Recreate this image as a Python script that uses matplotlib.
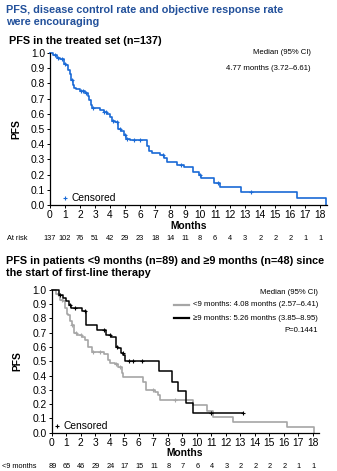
import matplotlib
matplotlib.use("Agg")
import matplotlib.pyplot as plt
import matplotlib.transforms as mtransforms
import numpy as np

plt.rcParams['font.family'] = ['Liberation Sans', 'DejaVu Sans']

# ---------------- data ----------------
months = list(range(0, 19))

# Top: all patients
all_t = [0, 0.2, 0.45, 0.65, 0.9, 1.05, 1.2, 1.3, 1.4, 1.5, 1.6, 1.75, 2.0, 2.3, 2.5, 2.6, 2.7, 2.8,
         3.3, 3.6, 3.8, 4.0, 4.1, 4.3, 4.55, 4.75, 4.9, 5.05, 5.3, 6.45, 6.6, 6.8, 7.35, 7.6, 7.8,
         8.45, 8.9, 9.5, 9.95, 10.05, 10.9, 11.3, 12.7, 16.45, 18.4]
all_s = [1.0, 0.99, 0.97, 0.96, 0.93, 0.92, 0.89, 0.86, 0.82, 0.79, 0.77, 0.76, 0.75, 0.74, 0.72, 0.69,
         0.66, 0.635, 0.625, 0.615, 0.60, 0.58, 0.555, 0.545, 0.50, 0.49, 0.46, 0.435, 0.425, 0.39,
         0.355, 0.345, 0.33, 0.31, 0.285, 0.263, 0.248, 0.219, 0.197, 0.175, 0.147, 0.12, 0.088,
         0.044, 0.0]
all_cens = [0.3, 0.55, 0.8, 1.0, 1.45, 2.05, 2.2, 2.4, 2.85, 3.6, 3.75, 4.2, 4.45, 4.65, 5.0, 5.15,
            5.6, 6.0, 7.5, 8.7, 10.0, 11.2, 13.4]
risk_all = [137, 102, 76, 51, 42, 29, 23, 18, 14, 11, 8, 6, 4, 3, 2, 2, 2, 1, 1]

# Bottom: <9 months (gray) and >=9 months (black)
lt_t = [0, 0.3, 0.55, 0.8, 0.92, 1.03, 1.15, 1.26, 1.38, 1.54, 1.72, 2.06, 2.3, 2.52, 2.75, 3.6, 3.9,
        4.0, 4.36, 4.59, 4.82, 4.93, 6.33, 6.5, 7.1, 7.34, 7.45, 9.77, 10.69, 11.1, 12.48, 16.2, 18.1]
lt_s = [1.0, 0.97, 0.93, 0.92, 0.875, 0.83, 0.82, 0.78, 0.75, 0.70, 0.68, 0.67, 0.65, 0.60, 0.565,
        0.547, 0.51, 0.49, 0.48, 0.457, 0.42, 0.39, 0.356, 0.30, 0.288, 0.266, 0.232, 0.194, 0.153,
        0.113, 0.074, 0.04, 0.0]
lt_cens = [0.4, 0.7, 1.4, 1.7, 2.0, 2.85, 3.3, 4.4, 4.7, 7.0, 8.5]

ge_t = [0, 0.5, 0.75, 1.0, 1.2, 1.35, 2.1, 2.35, 3.1, 3.75, 4.1, 4.4, 4.6, 4.75, 4.95, 5.05, 7.4,
        8.27, 8.73, 9.26, 9.72]
ge_s = [1.0, 0.96, 0.94, 0.92, 0.89, 0.875, 0.85, 0.75, 0.72, 0.68, 0.67, 0.60, 0.59, 0.56, 0.545,
        0.50, 0.428, 0.356, 0.289, 0.21, 0.138]
ge_end = 13.17
ge_cens = [0.6, 1.25, 1.6, 2.3, 3.6, 4.0, 4.5, 4.9, 5.3, 5.6, 6.2, 11.0, 13.17]
risk_lt = [89, 65, 46, 29, 24, 17, 15, 11, 8, 7, 6, 4, 3, 2, 2, 2, 2, 1, 1]

BLUE = '#1a6ad6'
TITLE_BLUE = '#23519b'
GRAY = '#a6a6a6'

W, H = 337, 471
fig = plt.figure(figsize=(W / 100, H / 100), dpi=100)
fig.patch.set_facecolor('white')


def px(x, y):
    return x / W, 1 - y / H


def surv_at(t, s, x):
    idx = np.searchsorted(t, x, side='right') - 1
    return s[max(idx, 0)]


def style_axes(ax, xmax):
    ax.set_xlim(0, xmax)
    ax.set_ylim(0, 1.0)
    ax.set_xticks(months)
    ax.set_yticks(np.arange(0, 1.01, 0.1))
    ax.set_yticklabels([f"{v:.1f}" for v in np.arange(0, 1.01, 0.1)])
    for sp in ['top', 'right']:
        ax.spines[sp].set_visible(False)
    for sp in ['left', 'bottom']:
        ax.spines[sp].set_linewidth(0.9)
    ax.tick_params(axis='both', direction='out', length=2.5, width=0.7, labelsize=7.4, pad=1)


# ---------------- titles ----------------
fig.text(*px(6, 16), "PFS, disease control rate and objective response rate\nwere encouraging",
         color=TITLE_BLUE, fontsize=7.8, fontweight='bold', va='center', ha='left',
         linespacing=1.25)
fig.text(*px(9, 41), "PFS in the treated set (n=137)", fontsize=7.8, fontweight='bold',
         va='center', ha='left')

# ---------------- top axes ----------------
ax1 = fig.add_axes([50 / W, 1 - 205 / H, 277 / W, 152 / H])
style_axes(ax1, 18.45)
ax1.step(all_t, all_s, where='post', color=BLUE, lw=1.2, clip_on=False)
ax1.plot(all_cens, [surv_at(all_t, all_s, c) for c in all_cens], '+', color=BLUE, ms=3.5, mew=0.8,
         clip_on=False)
ax1.set_ylabel("PFS", fontsize=7.4, fontweight='bold', labelpad=7)
ax1.set_xlabel("Months", fontsize=7.4, fontweight='bold', labelpad=0.5)
ax1.plot([1.0], [0.045], '+', color=BLUE, ms=3.5, mew=0.8)
ax1.text(1.45, 0.045, "Censored", fontsize=7.4, va='center', ha='left')
fig.text(*px(311, 53), "Median (95% CI)", fontsize=5.6, ha='right', va='center')
fig.text(*px(311, 68), "4.77 months (3.72\u20136.61)", fontsize=5.6, ha='right', va='center')

tr1 = mtransforms.blended_transform_factory(ax1.transData, fig.transFigure)
fig.text(*px(7, 238), "At risk", fontsize=5.3, ha='left', va='center')
for m, r in zip(months, risk_all):
    fig.text(m, 1 - 238 / H, str(r), transform=tr1, fontsize=5.3, ha='center', va='center')

# ---------------- second title ----------------
fig.text(*px(6, 267), "PFS in patients <9 months (n=89) and \u22659 months (n=48) since\nthe start of first-line therapy",
         fontsize=7.8, fontweight='bold', va='center', ha='left', linespacing=1.2)

# ---------------- bottom axes ----------------
ax2 = fig.add_axes([51.7 / W, 1 - 432.7 / H, 266.8 / W, 143 / H])
style_axes(ax2, 18.4)
ax2.step(lt_t, lt_s, where='post', color=GRAY, lw=1.2, clip_on=False, zorder=2)
ax2.plot(lt_cens, [surv_at(lt_t, lt_s, c) for c in lt_cens], '+', color=GRAY, ms=3.2, mew=0.8,
         clip_on=False, zorder=2)
ax2.step(ge_t + [ge_end], ge_s + [ge_s[-1]], where='post', color='black', lw=1.1, clip_on=False,
         zorder=3)
ax2.plot(ge_cens, [surv_at(ge_t, ge_s, c) for c in ge_cens], '+', color='black', ms=3.2, mew=0.8,
         clip_on=False, zorder=3)
ax2.set_ylabel("PFS", fontsize=7.4, fontweight='bold', labelpad=7)
ax2.set_xlabel("Months", fontsize=7.4, fontweight='bold', labelpad=0.5)
ax2.plot([0.37], [0.045], '+', color='black', ms=3.2, mew=0.8)
ax2.text(0.8, 0.045, "Censored", fontsize=7.4, va='center', ha='left')

fig.text(*px(318, 293), "Median (95% CI)", fontsize=5.6, ha='right', va='center')
fig.text(*px(318, 305), "<9 months: 4.08 months (2.57\u20136.41)", fontsize=5.6, ha='right', va='center')
fig.text(*px(318, 318), "\u22659 months: 5.26 months (3.85\u20138.95)", fontsize=5.6, ha='right', va='center')
fig.text(*px(318, 331), "P=0.1441", fontsize=5.6, ha='right', va='center')
fig.add_artist(plt.Line2D([174 / W, 189 / W], [1 - 305 / H, 1 - 305 / H], color=GRAY, lw=1.6))
fig.add_artist(plt.Line2D([174 / W, 189 / W], [1 - 318 / H, 1 - 318 / H], color='black', lw=1.6))

tr2 = mtransforms.blended_transform_factory(ax2.transData, fig.transFigure)
fig.text(*px(2, 466), "<9 months", fontsize=5.3, ha='left', va='center')
for m, r in zip(months, risk_lt):
    fig.text(m + 0.05, 1 - 466 / H, str(r), transform=tr2, fontsize=5.3, ha='center', va='center')

fig.savefig("out.png", dpi=100, facecolor='white')
